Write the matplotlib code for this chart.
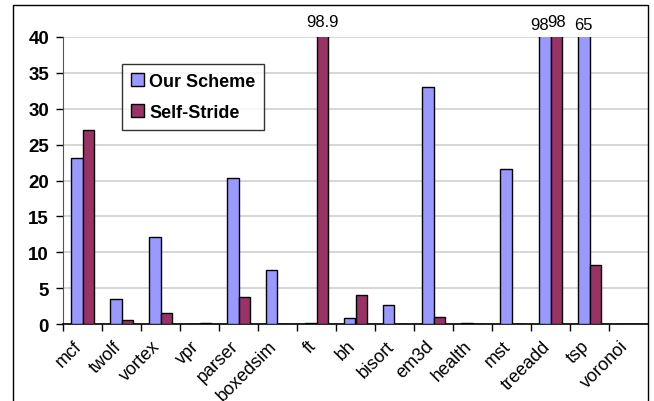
import numpy as np
import matplotlib
matplotlib.use("Agg")
import matplotlib.pyplot as plt
import matplotlib.transforms as mtrans
from matplotlib.patches import Rectangle

plt.rcParams["font.family"] = ["Liberation Sans", "DejaVu Sans"]

benchmarks = ["mcf", "twolf", "vortex", "vpr", "parser", "boxedsim", "ft", "bh",
              "bisort", "em3d", "health", "mst", "treeadd", "tsp", "voronoi"]
our_scheme = [23.2, 3.5, 12.1, 0.0, 20.4, 7.5, 0.1, 0.8, 2.6, 33.1, 0.1, 21.6, 98.0, 65.0, 0.0]
self_stride = [27.1, 0.6, 1.5, 0.15, 3.7, 0.0, 98.9, 4.1, 0.0, 1.0, 0.0, 0.0, 98.0, 8.2, 0.0]

BLUE = "#9999FF"
RED = "#993366"
YMAX = 40

fig = plt.figure(figsize=(6.54, 4.02), dpi=100)
ax = fig.add_axes([63 / 654, 1 - 325 / 402, (648 - 63) / 654, (325 - 38) / 402])

# outer chart frame
fig.patches.append(Rectangle((13 / 654, -0.05), (648 - 13) / 654, 1.05 - 6 / 402,
                             transform=fig.transFigure, fill=False,
                             edgecolor="black", linewidth=1.0))

x = np.arange(len(benchmarks))
w = 0.3
ax.bar(x - w / 2, our_scheme, w, color=BLUE, edgecolor="black", linewidth=1.0,
       label="Our Scheme", zorder=3)
ax.bar(x + w / 2, self_stride, w, color=RED, edgecolor="black", linewidth=1.0,
       label="Self-Stride", zorder=3)

ax.set_xlim(-0.5, len(benchmarks) - 0.5)
ax.set_ylim(0, YMAX)

# labels for bars cut off at the top
for i, (a, b) in enumerate(zip(our_scheme, self_stride)):
    both = a > YMAX and b > YMAX
    if a > YMAX:
        ax.annotate(f"{a:g}", (i - w / 2, YMAX), xytext=(-4 if both else 0, 9),
                    textcoords="offset points", ha="center", va="center",
                    fontsize=12, annotation_clip=False)
    if b > YMAX:
        ax.annotate(f"{b:g}", (i + w / 2, YMAX), xytext=(0, 11),
                    textcoords="offset points", ha="center", va="center",
                    fontsize=12, annotation_clip=False)

ax.set_yticks(range(0, YMAX + 1, 5))
ax.tick_params(axis="y", labelsize=13.5, length=5, width=1, direction="out", pad=5)
for t in ax.get_yticklabels():
    t.set_fontweight("bold")

ax.set_xticks(x - 0.5, minor=True)
ax.set_xticks(x)
ax.set_xticklabels(benchmarks, rotation=45, ha="right", rotation_mode="anchor",
                   fontsize=13)
ax.tick_params(axis="x", which="major", length=0, pad=8)
ax.tick_params(axis="x", which="minor", length=5, width=1, direction="out")
shift = mtrans.ScaledTranslation(-9 / 100, -2 / 100, fig.dpi_scale_trans)
for t in ax.get_xticklabels():
    t.set_transform(t.get_transform() + shift)

ax.grid(axis="y", color="#d0d0d0", linewidth=1.2, zorder=0)
ax.set_axisbelow(True)
for side in ["top", "right"]:
    ax.spines[side].set_visible(False)
ax.spines["left"].set_color("#555555")
ax.spines["bottom"].set_color("black")
ax.spines["bottom"].set_linewidth(1.2)

leg = ax.legend(loc="upper left", bbox_to_anchor=((122 - 63) / 585, (325 - 65) / 287),
                prop={"weight": "bold", "size": 13}, frameon=True, fancybox=False,
                edgecolor="black", handlelength=0.7, handleheight=0.7,
                handletextpad=0.3, borderpad=0.5, labelspacing=0.75, borderaxespad=0)
leg.get_frame().set_linewidth(1.0)

fig.savefig("out.png", dpi=100)
